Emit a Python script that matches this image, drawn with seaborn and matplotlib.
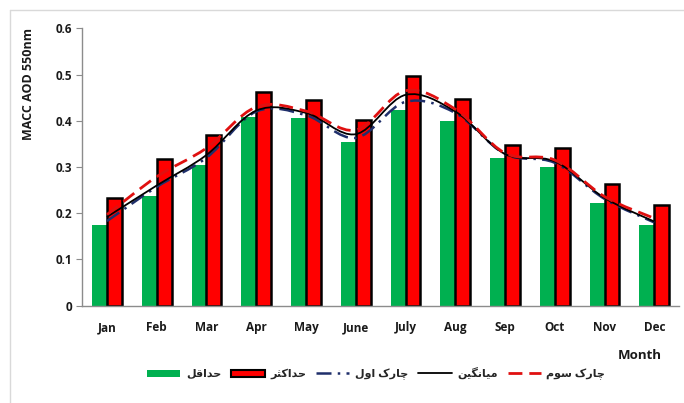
import numpy as np
import pandas as pd
import matplotlib
matplotlib.use("Agg")
import matplotlib.pyplot as plt
import seaborn as sns
from matplotlib.path import Path
from matplotlib.patches import PathPatch, Patch
from matplotlib.lines import Line2D

# ===========================
# DADOS
# ===========================
months = ["Jan", "Feb", "Mar", "Apr", "May", "June", "July", "Aug", "Sep", "Oct", "Nov", "Dec"]
aod_min = [0.174, 0.237, 0.304, 0.408, 0.405, 0.354, 0.423, 0.400, 0.320, 0.301, 0.222, 0.175]
aod_max = [0.234, 0.317, 0.369, 0.463, 0.445, 0.402, 0.497, 0.447, 0.348, 0.341, 0.263, 0.218]
aod_q1 = [0.183, 0.257, 0.320, 0.420, 0.412, 0.363, 0.441, 0.417, 0.328, 0.309, 0.231, 0.180]
aod_mean = [0.192, 0.260, 0.326, 0.422, 0.417, 0.371, 0.456, 0.420, 0.328, 0.312, 0.233, 0.182]
aod_q3 = [0.197, 0.279, 0.341, 0.430, 0.421, 0.380, 0.465, 0.425, 0.330, 0.315, 0.236, 0.189]

lbl_min = "حداقل"
lbl_max = "حداکثر"
lbl_q1 = "چارک اول"
lbl_mean = "میانگین"
lbl_q3 = "چارک سوم"

# ===========================
# SHAPING SIMPLES DO PERSA (matplotlib não faz)
# ===========================
FORMS = {
    "ا": ("\uFE8D", "\uFE8E", None, None),
    "د": ("\uFEA9", "\uFEAA", None, None),
    "ر": ("\uFEAD", "\uFEAE", None, None),
    "و": ("\uFEED", "\uFEEE", None, None),
    "ح": ("\uFEA1", "\uFEA2", "\uFEA3", "\uFEA4"),
    "ق": ("\uFED5", "\uFED6", "\uFED7", "\uFED8"),
    "ل": ("\uFEDD", "\uFEDE", "\uFEDF", "\uFEE0"),
    "ث": ("\uFE99", "\uFE9A", "\uFE9B", "\uFE9C"),
    "س": ("\uFEB1", "\uFEB2", "\uFEB3", "\uFEB4"),
    "م": ("\uFEE1", "\uFEE2", "\uFEE3", "\uFEE4"),
    "ن": ("\uFEE5", "\uFEE6", "\uFEE7", "\uFEE8"),
    "ک": ("\uFB8E", "\uFB8F", "\uFB90", "\uFB91"),
    "گ": ("\uFB92", "\uFB93", "\uFB94", "\uFB95"),
    "چ": ("\uFB7A", "\uFB7B", "\uFB7C", "\uFB7D"),
    "ی": ("\uFBFC", "\uFBFD", "\uFBFE", "\uFBFF"),
}


def fa(text):
    out = []
    for i, c in enumerate(text):
        if c not in FORMS:
            out.append(c)
            continue
        iso, fin, ini, med = FORMS[c]
        prev = text[i - 1] if i > 0 else None
        nxt = text[i + 1] if i + 1 < len(text) else None
        join_prev = prev in FORMS and FORMS[prev][2] is not None
        join_next = nxt in FORMS and ini is not None
        if join_prev and join_next:
            out.append(med)
        elif join_prev:
            out.append(fin)
        elif join_next:
            out.append(ini)
        else:
            out.append(iso)
    return "".join(reversed(out))


# ===========================
# LINHA SUAVIZADA (estilo Excel, Bezier)
# ===========================
def smooth_path(xs, ys):
    xs = np.asarray(xs, float)
    ys = np.asarray(ys, float)
    pts = np.column_stack([xs, ys])
    verts = [pts[0]]
    codes = [Path.MOVETO]
    n = len(pts)
    for i in range(n - 1):
        p0 = pts[i - 1] if i > 0 else pts[i]
        p1 = pts[i]
        p2 = pts[i + 1]
        p3 = pts[i + 2] if i + 2 < n else pts[i + 1]
        c1 = p1 + (p2 - p0) / 6.0
        c2 = p2 - (p3 - p1) / 6.0
        verts += [c1, c2, p2]
        codes += [Path.CURVE4] * 3
    return Path(verts, codes)


sns.set_style("white")
FONT = ["Open Sans", "DejaVu Sans"]
plt.rcParams["font.family"] = FONT

fig = plt.figure(figsize=(6.84, 4.03), dpi=100)
ax = fig.add_axes([0.12, 0.2414, 0.873, 0.6884])

df = pd.DataFrame({
    "month": months * 2,
    "aod": aod_min + aod_max,
    "tipo": ["min"] * 12 + ["max"] * 12,
})

sns.barplot(data=df, x="month", y="aod", hue="tipo", order=months,
            hue_order=["min", "max"], palette=["#00B050", "#FF0000"],
            width=0.6, legend=False, ax=ax, saturation=1)

for i, p in enumerate(ax.patches):
    if i < 12:
        p.set_edgecolor("none")
    else:
        p.set_edgecolor("black")
        p.set_linewidth(1.8)

xs = np.arange(len(months))
ax.add_patch(PathPatch(smooth_path(xs, aod_q1), fill=False, edgecolor="#1F2F6B",
                       lw=1.8, linestyle=(0, (6, 2.5, 1, 2.5)), zorder=4))
ax.add_patch(PathPatch(smooth_path(xs, aod_mean), fill=False, edgecolor="black",
                       lw=1.3, zorder=5))
ax.add_patch(PathPatch(smooth_path(xs, aod_q3), fill=False, edgecolor="#E01010",
                       lw=2.0, linestyle=(0, (5, 2.5)), zorder=6))

ax.set_xlim(-0.5, 11.5)
ax.set_ylim(0, 0.6)
ax.set_yticks(np.arange(0, 0.61, 0.1))
ax.set_yticklabels(["0", "0.1", "0.2", "0.3", "0.4", "0.5", "0.6"])
ax.set_xticks(xs)
ax.set_xticklabels(months)
ax.set_xticks(np.arange(-0.5, 12, 1), minor=True)

for lab in ax.get_xticklabels() + ax.get_yticklabels():
    lab.set_fontweight("bold")
    lab.set_fontsize(8.5)
    lab.set_color("#1a1a1a")

ax.tick_params(axis="x", which="major", length=0, pad=11)
ax.tick_params(axis="x", which="minor", length=4, color="#8c8c8c", direction="out")
ax.tick_params(axis="y", which="major", length=4, color="#8c8c8c", direction="out",
               left=True, pad=3)

sns.despine(ax=ax, top=True, right=True)
for s in ["left", "bottom"]:
    ax.spines[s].set_color("#8c8c8c")
    ax.spines[s].set_linewidth(1.0)

ax.set_ylabel("MACC AOD 550nm", fontsize=9, fontweight="bold", labelpad=15,
              color="#1a1a1a", loc="top")
ax.set_xlabel("")
fig.text(0.935, 0.118, "Month", fontsize=9.5, fontweight="bold", ha="center",
         va="center", color="#1a1a1a")

handles = [
    Patch(facecolor="#00B050", edgecolor="none"),
    Patch(facecolor="#FF0000", edgecolor="black", linewidth=1.5),
    Line2D([], [], color="#1F2F6B", lw=1.8, linestyle=(0, (6, 2.5, 1, 2.5))),
    Line2D([], [], color="black", lw=1.3),
    Line2D([], [], color="#E01010", lw=2.0, linestyle=(0, (5, 2.5))),
]
labels = [fa(lbl_min), fa(lbl_max), fa(lbl_q1), fa(lbl_mean), fa(lbl_q3)]
leg = fig.legend(handles, labels, loc="center", bbox_to_anchor=(0.55, 0.072), ncol=5,
                 frameon=False, handlelength=3.0, handleheight=0.6, columnspacing=0.9,
                 handletextpad=0.5, prop={"family": FONT, "weight": "bold", "size": 8})

# borda do gráfico
fig.add_artist(Line2D([0.0146, 0.0146], [0.0, 0.975], transform=fig.transFigure,
                      color="#d9d9d9", lw=1.0))
fig.add_artist(Line2D([0.0146, 1.0], [0.975, 0.975], transform=fig.transFigure,
                      color="#d9d9d9", lw=1.0))

fig.savefig("out.png", dpi=100)
